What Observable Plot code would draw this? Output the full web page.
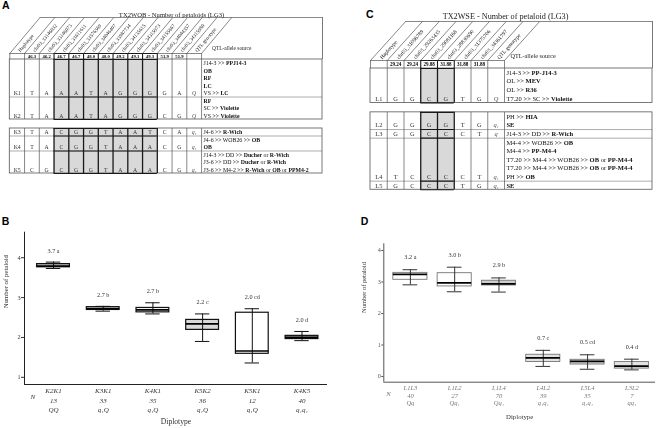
<!DOCTYPE html>
<html><head><meta charset="utf-8">
<script src="https://cdn.jsdelivr.net/npm/d3@7"></script>
<script src="https://cdn.jsdelivr.net/npm/@observablehq/plot@0.6"></script>
<style>
html,body{margin:0;padding:0;background:#fff;}
#fig{position:relative;width:661px;height:428px;overflow:hidden;background:#fff;}
#fig svg{position:absolute;left:0;top:0;will-change:transform;-webkit-font-smoothing:antialiased;}
.lab{position:absolute;font:bold 10.5px "Liberation Sans",Arial,sans-serif;line-height:10.5px;color:#000;}
</style></head>
<body><div id="fig">
<div class="lab" style="left:2px;top:-0.4px">A</div>
<div class="lab" style="left:366px;top:9.4px">C</div>
<div class="lab" style="left:1.7px;top:216.1px">B</div>
<div class="lab" style="left:360.7px;top:216.1px">D</div>
</div>
<script>
// ---------------- Panel A (table) ----------------
const titleA = "TX2WOB - Number of petaloids (LG3)";
const snpsA = ["chr03_33146032","chr03_33146073","chr03_33611611","chr03_33576569","chr03_34046407","chr03_33987734","chr03_34135615","chr03_34315973","chr03_34155667","chr03_34044357","chr03_34315980"];
const posA = ["46.3","46.2","46.7","46.7","48.0","48.0","49.2","49.1","49.3","51.9","51.9"];
const haploA = ["K1","K2","K3","K4","K5"];
const allelesA = ["TAAATAGGGGA","TAAATAGGGCG","TACGGTAATCA","TACGGTAAACG","CGCGGTAAACG"];
const genoA = ["Q","Q","q₁","q₁","q₁"];
const blockA = [1,1,2,2,2];
const shadedA = [2,3,4,5,6,7,8];
const sourcesA = [
  ["J14-3 >> **PPJ14-3**","**OB**","**RF**","**LC**","VS >> **LC**"],
  ["**RF**","SC >> **Violette**","VS >> **Violette**"],
  ["J4-6 >> **R-Wich**"],
  ["J4-6 >> WOB26 >> **OB**","**OB**"],
  ["J14-3 >> DD >> **Ducher** or **R-Wich**","J3-6 >> DD >> **Ducher** or **R-Wich**","J3-6 >> M4-2 >> **R-Wich** or **OB** or **PPM4-2**"]
];

// ---------------- Panel C (table) ----------------
const titleC = "TX2WSE - Number of petaloid (LG3)";
const snpsC = ["chr03_31096789","chr03_29263435","chr03_29081168","chr03_28830690","chr03_31375706","chr03_34361797"];
const posC = ["29.24","29.24","29.88","31.88","31.88","31.88"];
const haploC = ["L1","L2","L3","L4","L5"];
const allelesC = ["GGCGTG","GGGGTG","GGCCCT","TCCCCT","GCCCTG"];
const genoC = ["Q","q₁","q","q₁","q₁"];
const blockC = [1,2,2,2,2];
const shadedC = [2,3];
const sourcesC = [
  ["J14-3 >> **PP-J14-3**","OL >> **MEV**","OL >> **R36**","T7.20 >> SC >> **Violette**"],
  ["PH >> **HIA**","**SE**"],
  ["J14-3 >> DD >> **R-Wich**"],
  ["M4-4 >> WOB26 >> **OB**","M4-4 >> **PP-M4-4**","T7.20 >> M4-4 >> WOB26 >> **OB** or **PP-M4-4**","T7.20 >> M4-4 >> WOB26 >> **OB** or **PP-M4-4**","PH >> **OB**"],
  ["**SE**"]
];

// ---------------- Panel B (box plot) ----------------
const diploB = ["K2K1","K3K1","K4K1","K5K2","K5K1","K4K5"];
const nB = [13,33,35,36,12,40];
const genoB = ["QQ","q₁Q","q₁Q","q₁Q","q₁Q","q₁q₁"];
const meanB = ["3.7 a","2.7 b","2.7 b","2.2 c","2.0 cd","2.0 d"];
const loB  = [3.73,2.66,2.59,1.90,1.36,1.92];
const q1B  = [3.76,2.69,2.63,2.19,1.59,1.96];
const medB = [3.79,2.72,2.69,2.34,1.66,2.00];
const q3B  = [3.84,2.76,2.74,2.44,2.62,2.04];
const hiB  = [3.89,2.78,2.87,2.59,2.72,2.15];
const ticksB = [1,2,3,4];

// ---------------- Panel D (box plot) ----------------
const diploD = ["L1L3","L1L2","L1L4","L4L2","L5L4","L3L2"];
const nD = [40,27,70,39,35,7];
const genoD = ["Qq","Qq₁","Qq₁","q₁q₁","q₁q₁","qq₁"];
const meanD = ["3.2 a","3.0 b","2.9 b","0.7 c","0.5 cd","0.4 d"];
const loD  = [2.91,2.69,2.68,0.32,0.23,0.21];
const q1D  = [3.07,2.86,2.89,0.46,0.38,0.25];
const medD = [3.24,2.97,2.94,0.59,0.48,0.33];
const q3D  = [3.29,3.28,3.04,0.69,0.53,0.46];
const hiD  = [3.39,3.47,3.13,0.83,0.69,0.55];
const ticksD = [0,1,2,3,4];

const FONT = '"Liberation Serif","Times New Roman",serif';
const baseStyle = {background: "transparent", fontFamily: FONT, overflow: "visible", position: "absolute", left: "0px", top: "0px"};

function applyBold(svg) {
  svg.querySelectorAll("text").forEach(t => {
    const s = t.textContent;
    if (!s.includes("**")) return;
    t.textContent = "";
    s.split("**").forEach((part, i) => {
      if (!part) return;
      const ts = document.createElementNS("http://www.w3.org/2000/svg", "tspan");
      if (i % 2) ts.setAttribute("font-weight", "bold");
      ts.textContent = part;
      t.appendChild(ts);
    });
  });
  return svg;
}

function tablePanel(o) {
  const nSnp = o.snps.length, nCol = nSnp + 2;
  const xMax = (o.right - o.left) / o.colW;
  const yTop = -(o.bodyTop - o.top) / o.lineH;
  const yNum = -(o.bodyTop - o.numTop) / o.lineH;
  const ux = px => (px - o.left) / o.colW;
  const uy = py => (py - o.bodyTop) / o.lineH;
  const rows = []; let y = 0;
  o.haplo.forEach((h, i) => {
    const first = i === 0 || o.block[i] !== o.block[i - 1];
    if (i > 0 && first) y += o.gap;
    const n = o.sources[i].length;
    rows.push({i, h, y0: y, y1: y + n, first});
    y += n;
  });
  const yMax = y;
  const blocks = d3.groups(rows, r => o.block[r.i]).map(([b, rs]) => ({y0: rs[0].y0, y1: rs[rs.length - 1].y1}));
  const s0 = d3.min(o.shaded) + 1, s1 = d3.max(o.shaded) + 2;
  const cells = rows.flatMap(r => [
    {x: 0.5, y: r.y1 - 0.5, t: r.h},
    ...Array.from(o.alleles[r.i], (a, j) => ({x: j + 1.5, y: r.y1 - 0.5, t: a}))
  ]);
  const genoCells = rows.map(r => ({x: nCol - 0.5, y: r.y1 - 0.5, t: o.geno[r.i]}));
  const srcLines = rows.flatMap(r => o.sources[r.i].map((t, k) => ({y: r.y0 + k + 0.5, t})));
  const bounds = d3.range(0, nCol + 1);
  const inS = k => k >= s0 && k <= s1;
  const vThin = blocks.flatMap(b => bounds.filter(k => k > 0 && !inS(k)).map(k => ({k, y0: b.y0, y1: b.y1})));
  const vThick = blocks.flatMap(b => bounds.filter(inS).map(k => ({k, y0: b.y0, y1: b.y1})));
  const hThick = [...rows.map(r => r.y0), ...blocks.map(b => b.y1)];
  const angleRad = Math.atan2((yNum - yTop) * o.lineH, o.slant * o.colW);
  const angle = angleRad * 180 / Math.PI;
  const headers = ["Haplotype", ...o.snps, "QTL genotype"];
  const lc = "#555";
  const svg = Plot.plot({
    width: 661, height: 428, margin: 0,
    x: {type: "linear", domain: [0, xMax], range: [o.left, o.right], axis: null},
    y: {type: "linear", domain: [yTop, yMax], range: [o.top, o.bodyTop + yMax * o.lineH], axis: null},
    style: baseStyle,
    marks: [
      Plot.rect(blocks, {x1: s0, x2: s1, y1: "y0", y2: "y1", fill: "#d9d9d9"}),
      Plot.ruleY(rows.filter(r => !r.first), {y: "y0", x1: 0, x2: xMax, stroke: "#8a8a8a", strokeWidth: 0.7}),
      Plot.ruleX(vThin, {x: "k", y1: "y0", y2: "y1", stroke: lc, strokeWidth: 0.7}),
      Plot.rect(blocks, {x1: 0, x2: xMax, y1: "y0", y2: "y1", fill: "none", stroke: lc, strokeWidth: 0.8}),
      Plot.ruleY(hThick, {y: d => d, x1: s0, x2: s1, stroke: "#1a1a1a", strokeWidth: 1.1}),
      Plot.ruleX(vThick, {x: "k", y1: "y0", y2: "y1", stroke: "#1a1a1a", strokeWidth: 1.3}),
      // header
      Plot.ruleY([yNum], {y: d => d, x1: 0, x2: nCol, stroke: lc, strokeWidth: 0.7}),
      Plot.ruleX(bounds.filter(k => !inS(k)), {x: d => d, y1: yNum, y2: 0, stroke: lc, strokeWidth: 0.7}),
      Plot.ruleX(bounds.filter(inS), {x: d => d, y1: yNum, y2: 0, stroke: "#1a1a1a", strokeWidth: 1.1}),
      Plot.ruleY([yNum], {y: d => d, x1: s0, x2: s1, stroke: "#1a1a1a", strokeWidth: 1.1}),
      Plot.link(bounds, {x1: d => d, y1: yNum, x2: d => d + o.slant, y2: yTop, stroke: lc, strokeWidth: 0.7}),
      Plot.ruleY([yTop], {y: d => d, x1: o.slant, x2: xMax, stroke: lc, strokeWidth: 0.7}),
      Plot.ruleX([xMax], {x: d => d, y1: yTop, y2: 0, stroke: lc, strokeWidth: 0.8}),
      Plot.text(headers, {x: (d, j) => j + 0.5, y: yNum, text: d => d, rotate: -angle, textAnchor: "start",
        dx: 3 * Math.cos(angleRad), dy: -3 * Math.sin(angleRad), fontSize: o.headFont, fill: "#111"}),
      Plot.text(o.pos, {x: (d, j) => j + 1.5, y: yNum / 2, text: d => d, fontWeight: "bold", fontSize: o.numFont, fill: "#000"}),
      Plot.text(["QTL-allele source"], {x: ux(o.srcHead[0]), y: uy(o.srcHead[1]), text: d => d, textAnchor: "start", fontSize: o.srcHeadFont, fill: "#222"}),
      Plot.text([o.title], {x: ux(o.titlePos[0]), y: uy(o.titlePos[1]), text: d => d, fontSize: o.titleFont, fill: "#222"}),
      // body
      Plot.text(cells, {x: "x", y: "y", text: "t", fontSize: o.cellFont, fill: "#333"}),
      Plot.text(genoCells, {x: "x", y: "y", text: "t", fontSize: o.cellFont, fontStyle: "italic", fill: "#555"}),
      Plot.text(srcLines, {x: nCol, y: "y", text: "t", textAnchor: "start", dx: 2, fontSize: o.srcFont, fill: "#111"})
    ]
  });
  return applyBold(svg);
}

function boxPanel(o) {
  const data = o.cats.map((c, i) => ({i, c, n: o.n[i], g: o.geno[i], m: o.mean[i], lo: o.lo[i], q1: o.q1[i], med: o.med[i], q3: o.q3[i], hi: o.hi[i]}));
  const [L, T, R, B] = o.frame;
  const hw = o.boxW / 2, cw = o.capW / 2;
  return Plot.plot({
    width: 661, height: 428,
    marginLeft: L, marginTop: T, marginRight: 661 - R, marginBottom: 428 - B,
    x: {type: "linear", domain: o.xDomain, axis: null},
    y: {type: "linear", domain: o.yDomain, axis: null},
    color: {type: "identity"},
    style: baseStyle,
    marks: [
      Plot.rect(data, {x1: d => d.i - hw, x2: d => d.i + hw, y1: "q1", y2: "q3", fill: d => o.fills[d.i], stroke: o.boxStroke, strokeWidth: o.boxSW}),
      Plot.ruleX(data, {x: "i", y1: "lo", y2: "hi", stroke: o.whiskStroke, strokeWidth: 1}),
      Plot.ruleY(data, {y: "lo", x1: d => d.i - cw, x2: d => d.i + cw, stroke: o.whiskStroke, strokeWidth: 1}),
      Plot.ruleY(data, {y: "hi", x1: d => d.i - cw, x2: d => d.i + cw, stroke: o.whiskStroke, strokeWidth: 1}),
      Plot.ruleY(data, {y: "med", x1: d => d.i - hw, x2: d => d.i + hw, stroke: "#000", strokeWidth: 1.7}),
      Plot.text(data, {x: "i", y: "hi", dy: o.meanDy, text: "m", fontSize: 6.2, fill: o.textFill}),
      Plot.axisY({ticks: o.ticks, tickFormat: "d", tickSize: o.tickSize, tickPadding: 1, fontSize: 6.2, label: null, color: o.axisText}),
      Plot.ruleX([o.xDomain[0]], {x: d => d, stroke: o.axisStroke, strokeWidth: 1}),
      Plot.ruleY([o.yDomain[0]], {y: d => d, stroke: o.axisStroke, strokeWidth: 1}),
      Plot.text(data, {x: "i", frameAnchor: "bottom", dy: 2.5, lineAnchor: "top", lineHeight: o.lineHeight,
        text: d => `${d.c}\n${d.n}\n${d.g}`, fontStyle: "italic", fontSize: o.catFont, fill: o.catFill}),
      Plot.text(["N"], {frameAnchor: "bottom-left", dx: o.nDx, dy: o.nDy, text: d => d, fontStyle: "italic", fontSize: o.catFont, fill: o.catFill}),
      Plot.text(["Diplotype"], {frameAnchor: "bottom", dy: o.xLabDy, text: d => d, fontSize: o.xLabFont, fill: o.textFill}),
      Plot.text(["Number of petaloid"], {frameAnchor: "left", dx: o.yLabDx, rotate: -90, text: d => d, fontSize: o.yLabFont, fill: o.textFill})
    ]
  });
}

const fig = document.getElementById("fig");

fig.appendChild(tablePanel({
  title: titleA, snps: snpsA, pos: posA, haplo: haploA, alleles: allelesA, geno: genoA, block: blockA, shaded: shadedA, sources: sourcesA,
  left: 9.3, right: 322, colW: 14.75, top: 17, numTop: 53, bodyTop: 59, lineH: 7.5, gap: 1.2, slant: 2.05,
  headFont: 5.1, numFont: 4.7, cellFont: 5.8, srcFont: 5.8, srcHead: [211.5, 47.5], srcHeadFont: 5.4,
  titlePos: [171, 14], titleFont: 6.6
}));

fig.appendChild(tablePanel({
  title: titleC, snps: snpsC, pos: posC, haplo: haploC, alleles: allelesC, geno: genoC, block: blockC, shaded: shadedC, sources: sourcesC,
  left: 370, right: 652, colW: 16.75, top: 21, numTop: 60, bodyTop: 68, lineH: 8.6, gap: 1.1, slant: 2.1,
  headFont: 5.5, numFont: 5.1, cellFont: 6.4, srcFont: 6.5, srcHead: [510, 56], srcHeadFont: 6.2,
  titlePos: [505, 15.5], titleFont: 8.2
}));

fig.appendChild(boxPanel({
  cats: diploB, n: nB, geno: genoB, mean: meanB, lo: loB, q1: q1B, med: medB, q3: q3B, hi: hiB, ticks: ticksB,
  frame: [24, 231.7, 327, 384], xDomain: [-0.584, 5.513], yDomain: [0.82, 4.64],
  boxW: 0.66, capW: 0.29, fills: ["#b8b8b8", "#b8b8b8", "#ffffff", "#dadada", "#ffffff", "#b8b8b8"],
  boxStroke: "#111", boxSW: 1.2, whiskStroke: "#111", meanDy: -11.5, tickSize: 3,
  axisStroke: "#222", axisText: "#333", textFill: "#333", catFill: "#333", catFont: 7, lineHeight: 1.3,
  nDx: 6, nDy: 14, xLabDy: 39, xLabFont: 7.6, yLabDx: -19, yLabFont: 6.8
}));

fig.appendChild(boxPanel({
  cats: diploD, n: nD, geno: genoD, mean: meanD, lo: loD, q1: q1D, med: medD, q3: q3D, hi: hiD, ticks: ticksD,
  frame: [383.3, 243.3, 655, 381.7], xDomain: [-0.6, 5.533], yDomain: [-0.181, 4.213],
  boxW: 0.77, capW: 0.33, fills: ["#ffffff", "#ffffff", "#cfcfcf", "#e2e2e2", "#d4d4d4", "#e2e2e2"],
  boxStroke: "#777", boxSW: 0.9, whiskStroke: "#333", meanDy: -12.4, tickSize: 2,
  axisStroke: "#555", axisText: "#555", textFill: "#333", catFill: "#777", catFont: 6.5, lineHeight: 1.17,
  nDx: 2.5, nDy: 13.3, xLabDy: 36.6, xLabFont: 6.8, yLabDx: -20, yLabFont: 6.5
}));
</script>
</body></html>
